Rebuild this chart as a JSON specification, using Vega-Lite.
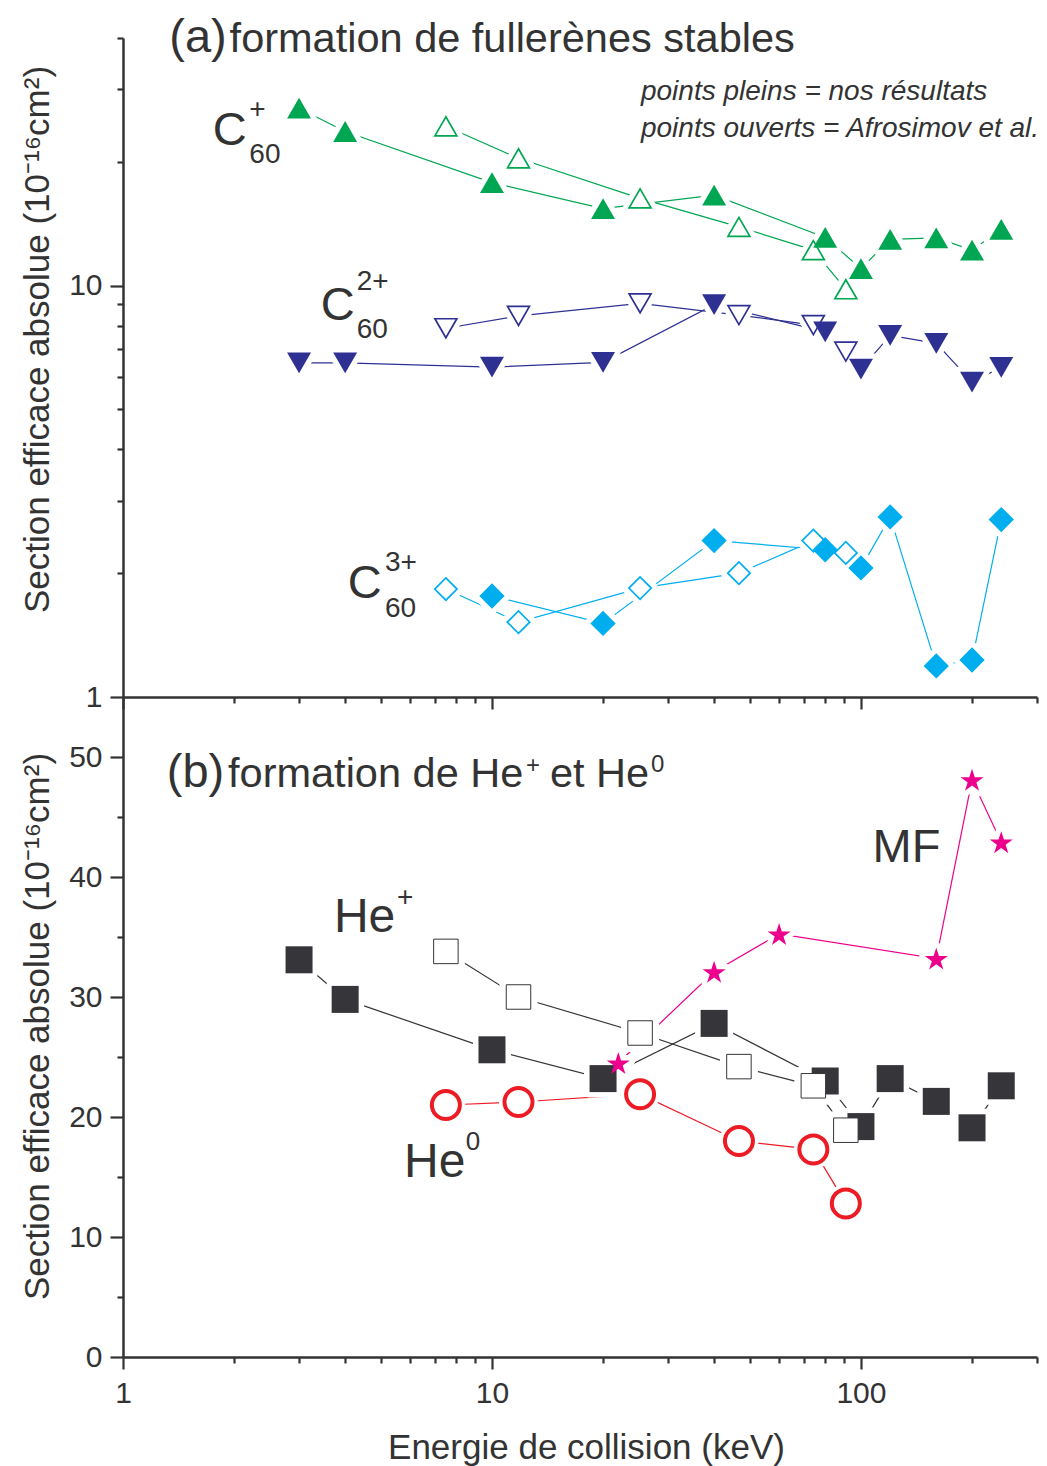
{
  "$schema": "https://vega.github.io/schema/vega-lite/v6.json",
  "width": 914,
  "height": 1319,
  "autosize": {"type": "none"},
  "padding": {"left": 123, "top": 38, "right": 10, "bottom": 109},
  "background": "white",
  "config": {
    "view": {"stroke": null},
    "axis": {
      "domainColor": "#333333", "domainWidth": 2.5,
      "tickColor": "#333333", "tickWidth": 2.2,
      "labelColor": "#333333", "labelFont": "Liberation Sans", "labelFontSize": 30, "labelPadding": 8,
      "labelOverlap": false, "labelFlush": false, "labelBound": false,
      "titleColor": "#333333", "titleFont": "Liberation Sans", "titleFontSize": 35, "titleFontWeight": "normal",
      "grid": false
    },
    "text": {"font": "Liberation Sans", "color": "#333333"}
  },
  "datasets": {
    "a": [
      {"ion": "C60+", "source": "nos", "E": 3, "sigma": 27.0},
      {"ion": "C60+", "source": "nos", "E": 4, "sigma": 23.7},
      {"ion": "C60+", "source": "nos", "E": 10, "sigma": 17.8},
      {"ion": "C60+", "source": "nos", "E": 20, "sigma": 15.4},
      {"ion": "C60+", "source": "nos", "E": 40, "sigma": 16.6},
      {"ion": "C60+", "source": "nos", "E": 80, "sigma": 13.1},
      {"ion": "C60+", "source": "nos", "E": 100, "sigma": 11.0},
      {"ion": "C60+", "source": "nos", "E": 120, "sigma": 12.96},
      {"ion": "C60+", "source": "nos", "E": 160, "sigma": 13.06},
      {"ion": "C60+", "source": "nos", "E": 200, "sigma": 12.2},
      {"ion": "C60+", "source": "nos", "E": 240, "sigma": 13.7},
      {"ion": "C60+", "source": "afro", "E": 7.5, "sigma": 24.4},
      {"ion": "C60+", "source": "afro", "E": 11.8, "sigma": 20.4},
      {"ion": "C60+", "source": "afro", "E": 25.2, "sigma": 16.3},
      {"ion": "C60+", "source": "afro", "E": 46.7, "sigma": 13.9},
      {"ion": "C60+", "source": "afro", "E": 74.3, "sigma": 12.2},
      {"ion": "C60+", "source": "afro", "E": 91, "sigma": 9.8},
      {"ion": "C60 2+", "source": "nos", "E": 3, "sigma": 6.49},
      {"ion": "C60 2+", "source": "nos", "E": 4, "sigma": 6.49},
      {"ion": "C60 2+", "source": "nos", "E": 10, "sigma": 6.34},
      {"ion": "C60 2+", "source": "nos", "E": 20, "sigma": 6.51},
      {"ion": "C60 2+", "source": "nos", "E": 40, "sigma": 8.99},
      {"ion": "C60 2+", "source": "nos", "E": 80, "sigma": 7.72},
      {"ion": "C60 2+", "source": "nos", "E": 100, "sigma": 6.27},
      {"ion": "C60 2+", "source": "nos", "E": 120, "sigma": 7.57},
      {"ion": "C60 2+", "source": "nos", "E": 160, "sigma": 7.24},
      {"ion": "C60 2+", "source": "nos", "E": 200, "sigma": 5.83},
      {"ion": "C60 2+", "source": "nos", "E": 240, "sigma": 6.33},
      {"ion": "C60 2+", "source": "afro", "E": 7.5, "sigma": 7.88},
      {"ion": "C60 2+", "source": "afro", "E": 11.8, "sigma": 8.44},
      {"ion": "C60 2+", "source": "afro", "E": 25.2, "sigma": 9.06},
      {"ion": "C60 2+", "source": "afro", "E": 46.7, "sigma": 8.48},
      {"ion": "C60 2+", "source": "afro", "E": 74.3, "sigma": 8.02},
      {"ion": "C60 2+", "source": "afro", "E": 91, "sigma": 6.91},
      {"ion": "C60 3+", "source": "nos", "E": 10, "sigma": 1.76},
      {"ion": "C60 3+", "source": "nos", "E": 20, "sigma": 1.51},
      {"ion": "C60 3+", "source": "nos", "E": 40, "sigma": 2.40},
      {"ion": "C60 3+", "source": "nos", "E": 80, "sigma": 2.28},
      {"ion": "C60 3+", "source": "nos", "E": 100, "sigma": 2.06},
      {"ion": "C60 3+", "source": "nos", "E": 120, "sigma": 2.74},
      {"ion": "C60 3+", "source": "nos", "E": 160, "sigma": 1.19},
      {"ion": "C60 3+", "source": "nos", "E": 200, "sigma": 1.23},
      {"ion": "C60 3+", "source": "nos", "E": 240, "sigma": 2.70},
      {"ion": "C60 3+", "source": "afro", "E": 7.5, "sigma": 1.83},
      {"ion": "C60 3+", "source": "afro", "E": 11.8, "sigma": 1.52},
      {"ion": "C60 3+", "source": "afro", "E": 25.2, "sigma": 1.84},
      {"ion": "C60 3+", "source": "afro", "E": 46.7, "sigma": 2.00},
      {"ion": "C60 3+", "source": "afro", "E": 74.3, "sigma": 2.40},
      {"ion": "C60 3+", "source": "afro", "E": 91, "sigma": 2.24}
    ],
    "b": [
      {"ion": "He+", "source": "nos", "E": 3, "sigma": 33.1},
      {"ion": "He+", "source": "nos", "E": 4, "sigma": 29.8},
      {"ion": "He+", "source": "nos", "E": 10, "sigma": 25.6},
      {"ion": "He+", "source": "nos", "E": 20, "sigma": 23.2},
      {"ion": "He+", "source": "nos", "E": 40, "sigma": 27.8},
      {"ion": "He+", "source": "nos", "E": 80, "sigma": 23.0},
      {"ion": "He+", "source": "nos", "E": 100, "sigma": 19.2},
      {"ion": "He+", "source": "nos", "E": 120, "sigma": 23.2},
      {"ion": "He+", "source": "nos", "E": 160, "sigma": 21.3},
      {"ion": "He+", "source": "nos", "E": 200, "sigma": 19.1},
      {"ion": "He+", "source": "nos", "E": 240, "sigma": 22.6},
      {"ion": "He+", "source": "afro", "E": 7.5, "sigma": 33.8},
      {"ion": "He+", "source": "afro", "E": 11.8, "sigma": 30.0},
      {"ion": "He+", "source": "afro", "E": 25.2, "sigma": 27.0},
      {"ion": "He+", "source": "afro", "E": 46.7, "sigma": 24.2},
      {"ion": "He+", "source": "afro", "E": 74.3, "sigma": 22.6},
      {"ion": "He+", "source": "afro", "E": 91, "sigma": 18.9},
      {"ion": "He0", "source": "afro", "E": 7.5, "sigma": 21.0},
      {"ion": "He0", "source": "afro", "E": 11.8, "sigma": 21.25},
      {"ion": "He0", "source": "afro", "E": 25.2, "sigma": 21.9},
      {"ion": "He0", "source": "afro", "E": 46.7, "sigma": 18.0},
      {"ion": "He0", "source": "afro", "E": 74.3, "sigma": 17.3},
      {"ion": "He0", "source": "afro", "E": 91, "sigma": 12.8},
      {"ion": "MF", "source": "nos", "E": 22, "sigma": 24.5},
      {"ion": "MF", "source": "nos", "E": 40, "sigma": 32.1},
      {"ion": "MF", "source": "nos", "E": 60, "sigma": 35.25},
      {"ion": "MF", "source": "nos", "E": 160, "sigma": 33.2},
      {"ion": "MF", "source": "nos", "E": 200, "sigma": 48.1},
      {"ion": "MF", "source": "nos", "E": 240, "sigma": 42.9}
    ]
  },
  "resolve": {"scale": {"x": "independent", "y": "independent"}, "axis": {"x": "independent", "y": "independent"}},
  "layer": [
    {
      "resolve": {"scale": {"size": "independent"}},
      "layer": [
        {"data": {"name": "a"},
         "mark": {"type": "line", "strokeWidth": 1.2},
         "encoding": {
           "x": {"field": "E", "type": "quantitative",
             "scale": {"type": "log", "domain": [1, 300], "nice": false},
             "axis": {"orient": "bottom", "offset": -660, "values": [1,2,3,4,5,6,7,8,9,10,20,30,40,50,60,70,80,90,100,200,300],
               "labels": false, "title": null,
               "tickSize": {"condition": {"test": "datum.value == 1 || datum.value == 10 || datum.value == 100", "value": 12}, "value": 6}}},
           "y": {"field": "sigma", "type": "quantitative",
             "scale": {"type": "log", "domain": [1, 40], "range": [659, 0], "nice": false},
             "axis": {"orient": "left", "values": [1,2,3,4,5,6,7,8,9,10,20,30,40],
               "labelExpr": "datum.value == 1 ? '1' : datum.value == 10 ? '10' : ''",
               "tickSize": {"condition": {"test": "datum.value == 1 || datum.value == 10", "value": 13}, "value": 6},
               "title": "Section efficace absolue (10⁻¹⁶cm²)", "titleAngle": 270, "titleX": -75, "titleY": 301,
               "titleBaseline": "alphabetic", "titleAlign": "center"}},
           "color": {"field": "ion", "type": "nominal", "legend": null,
             "scale": {"domain": ["C60+","C60 2+","C60 3+","He+","He0","MF"], "range": ["#00a651","#2e3192","#00aeef","#36353a","#ed1c24","#ec008c"]}},
           "detail": {"field": "source"}}},
        {"data": {"name": "a"},
         "mark": {"type": "point", "filled": true, "fill": "white", "stroke": "white", "strokeWidth": 11, "strokeJoin": "round", "opacity": 1},
         "encoding": {
           "x": {"field": "E", "type": "quantitative"},
           "y": {"field": "sigma", "type": "quantitative"},
           "shape": {"field": "ion", "type": "nominal", "legend": null,
             "scale": {"domain": ["C60+","C60 2+","C60 3+","He+","He0","MF"], "range": ["triangle-up","triangle-down","diamond","square","circle","M0,-0.905L0.225,-0.214L0.951,-0.214L0.363,0.213L0.588,0.905L0,0.477L-0.588,0.905L-0.363,0.213L-0.951,-0.214L-0.225,-0.214Z"]}},
           "size": {"field": "ion", "type": "nominal", "legend": null,
             "scale": {"type": "ordinal", "domain": ["C60+","C60 2+","C60 3+","He+","He0","MF"], "range": [576,576,640,729,784,585]}}}},
        {"data": {"name": "a"},
         "transform": [{"filter": "datum.source == 'afro'"}],
         "mark": {"type": "point", "filled": true, "fill": "white", "opacity": 1},
         "encoding": {
           "x": {"field": "E", "type": "quantitative"},
           "y": {"field": "sigma", "type": "quantitative"},
           "shape": {"field": "ion", "type": "nominal", "legend": null},
           "stroke": {"field": "ion", "type": "nominal", "legend": null,
             "scale": {"domain": ["C60+","C60 2+","C60 3+","He+","He0","MF"], "range": ["#00a651","#2e3192","#00aeef","#36353a","#ed1c24","#ec008c"]}},
           "strokeWidth": {"field": "ion", "type": "nominal", "legend": null,
             "scale": {"type": "ordinal", "domain": ["C60+","C60 2+","C60 3+","He+","He0","MF"], "range": [1.7,1.7,1.7,2.7,2.3,1.7]}},
           "size": {"field": "ion", "type": "nominal", "legend": null,
             "scale": {"type": "ordinal", "domain": ["C60+","C60 2+","C60 3+","He+","He0","MF"], "range": [480,480,500,600,784,585]}}}},
        {"data": {"name": "a"},
         "transform": [{"filter": "datum.source == 'nos'"}],
         "mark": {"type": "point", "filled": true, "opacity": 1, "strokeWidth": 0},
         "encoding": {
           "x": {"field": "E", "type": "quantitative"},
           "y": {"field": "sigma", "type": "quantitative"},
           "shape": {"field": "ion", "type": "nominal", "legend": null},
           "color": {"field": "ion", "type": "nominal", "legend": null},
           "size": {"field": "ion", "type": "nominal", "legend": null,
             "scale": {"type": "ordinal", "domain": ["C60+","C60 2+","C60 3+","He+","He0","MF"], "range": [576,576,640,729,784,585]}}}},
        {"data": {"values": [{}]}, "mark": {"type": "text", "text": "(a)", "fontSize": 47, "align": "left", "baseline": "alphabetic"},
         "encoding": {"x": {"datum": 1.335, "type": "quantitative"}, "y": {"datum": 36.98, "type": "quantitative"}}},
        {"data": {"values": [{}]}, "mark": {"type": "text", "text": "formation de fullerènes stables", "fontSize": 41.5, "align": "left", "baseline": "alphabetic"},
         "encoding": {"x": {"datum": 1.945, "type": "quantitative"}, "y": {"datum": 36.98, "type": "quantitative"}}},
        {"data": {"values": [{}]}, "mark": {"type": "text", "text": "C", "fontSize": 47, "align": "left", "baseline": "alphabetic"},
         "encoding": {"x": {"datum": 1.75, "type": "quantitative"}, "y": {"datum": 21.98, "type": "quantitative"}}},
        {"data": {"values": [{}]}, "mark": {"type": "text", "text": "+", "fontSize": 28, "align": "left", "baseline": "alphabetic"},
         "encoding": {"x": {"datum": 2.2, "type": "quantitative"}, "y": {"datum": 25.56, "type": "quantitative"}}},
        {"data": {"values": [{}]}, "mark": {"type": "text", "text": "60", "fontSize": 28, "align": "left", "baseline": "alphabetic"},
         "encoding": {"x": {"datum": 2.2, "type": "quantitative"}, "y": {"datum": 19.87, "type": "quantitative"}}},
        {"data": {"values": [{}]}, "mark": {"type": "text", "text": "C", "fontSize": 47, "align": "left", "baseline": "alphabetic"},
         "encoding": {"x": {"datum": 3.434, "type": "quantitative"}, "y": {"datum": 8.25, "type": "quantitative"}}},
        {"data": {"values": [{}]}, "mark": {"type": "text", "text": "2+", "fontSize": 28, "align": "left", "baseline": "alphabetic"},
         "encoding": {"x": {"datum": 4.3, "type": "quantitative"}, "y": {"datum": 9.76, "type": "quantitative"}}},
        {"data": {"values": [{}]}, "mark": {"type": "text", "text": "60", "fontSize": 28, "align": "left", "baseline": "alphabetic"},
         "encoding": {"x": {"datum": 4.3, "type": "quantitative"}, "y": {"datum": 7.46, "type": "quantitative"}}},
        {"data": {"values": [{}]}, "mark": {"type": "text", "text": "C", "fontSize": 47, "align": "left", "baseline": "alphabetic"},
         "encoding": {"x": {"datum": 4.064, "type": "quantitative"}, "y": {"datum": 1.741, "type": "quantitative"}}},
        {"data": {"values": [{}]}, "mark": {"type": "text", "text": "3+", "fontSize": 28, "align": "left", "baseline": "alphabetic"},
         "encoding": {"x": {"datum": 5.13, "type": "quantitative"}, "y": {"datum": 2.025, "type": "quantitative"}}},
        {"data": {"values": [{}]}, "mark": {"type": "text", "text": "60", "fontSize": 28, "align": "left", "baseline": "alphabetic"},
         "encoding": {"x": {"datum": 5.13, "type": "quantitative"}, "y": {"datum": 1.565, "type": "quantitative"}}},
        {"data": {"values": [{}]}, "mark": {"type": "text", "text": "points pleins = nos résultats", "fontSize": 28, "fontStyle": "italic", "align": "left", "baseline": "alphabetic"},
         "encoding": {"x": {"datum": 25.34, "type": "quantitative"}, "y": {"datum": 28.27, "type": "quantitative"}}},
        {"data": {"values": [{}]}, "mark": {"type": "text", "text": "points ouverts = Afrosimov et al.", "fontSize": 28, "fontStyle": "italic", "align": "left", "baseline": "alphabetic"},
         "encoding": {"x": {"datum": 25.34, "type": "quantitative"}, "y": {"datum": 22.97, "type": "quantitative"}}}
      ]
    },
    {
      "resolve": {"scale": {"size": "independent"}},
      "layer": [
        {"data": {"name": "b"},
         "mark": {"type": "line", "strokeWidth": 1.2},
         "encoding": {
           "x": {"field": "E", "type": "quantitative",
             "scale": {"type": "log", "domain": [1, 300], "nice": false},
             "axis": {"orient": "bottom", "values": [1,2,3,4,5,6,7,8,9,10,20,30,40,50,60,70,80,90,100,200,300],
               "labelExpr": "datum.value == 1 ? '1' : datum.value == 10 ? '10' : datum.value == 100 ? '100' : ''",
               "labelPadding": 9,
               "tickSize": {"condition": {"test": "datum.value == 1 || datum.value == 10 || datum.value == 100", "value": 12}, "value": 6},
               "title": "Energie de collision (keV)", "titleX": 463, "titleY": 101, "titleBaseline": "alphabetic", "titleAlign": "center"}},
           "y": {"field": "sigma", "type": "quantitative",
             "scale": {"type": "linear", "domain": [0, 55], "range": [1319, 659], "nice": false, "zero": false},
             "axis": {"orient": "left", "values": [0,5,10,15,20,25,30,35,40,45,50],
               "labelExpr": "datum.value % 10 == 0 ? '' + datum.value : ''",
               "tickSize": {"condition": {"test": "datum.value % 10 == 0", "value": 13}, "value": 6},
               "title": "Section efficace absolue (10⁻¹⁶cm²)", "titleAngle": 270, "titleX": -75, "titleY": 988,
               "titleBaseline": "alphabetic", "titleAlign": "center"}},
           "color": {"field": "ion", "type": "nominal", "legend": null},
           "detail": {"field": "source"}}},
        {"data": {"name": "b"},
         "mark": {"type": "point", "filled": true, "fill": "white", "stroke": "white", "strokeWidth": 11, "strokeJoin": "round", "opacity": 1},
         "encoding": {
           "x": {"field": "E", "type": "quantitative"},
           "y": {"field": "sigma", "type": "quantitative"},
           "shape": {"field": "ion", "type": "nominal", "legend": null},
           "size": {"field": "ion", "type": "nominal", "legend": null,
             "scale": {"type": "ordinal", "domain": ["C60+","C60 2+","C60 3+","He+","He0","MF"], "range": [576,576,640,729,784,585]}}}},
        {"data": {"name": "b"},
         "transform": [{"filter": "datum.source == 'nos'"}],
         "mark": {"type": "point", "filled": true, "opacity": 1, "strokeWidth": 0},
         "encoding": {
           "x": {"field": "E", "type": "quantitative"},
           "y": {"field": "sigma", "type": "quantitative"},
           "shape": {"field": "ion", "type": "nominal", "legend": null},
           "color": {"field": "ion", "type": "nominal", "legend": null},
           "size": {"field": "ion", "type": "nominal", "legend": null,
             "scale": {"type": "ordinal", "domain": ["C60+","C60 2+","C60 3+","He+","He0","MF"], "range": [576,576,640,729,784,585]}}}},
        {"data": {"name": "b"},
         "transform": [{"filter": "datum.source == 'afro'"}],
         "mark": {"type": "point", "filled": true, "fill": "white", "opacity": 1},
         "encoding": {
           "x": {"field": "E", "type": "quantitative"},
           "y": {"field": "sigma", "type": "quantitative"},
           "shape": {"field": "ion", "type": "nominal", "legend": null},
           "stroke": {"field": "ion", "type": "nominal", "legend": null},
           "strokeWidth": {"field": "ion", "type": "nominal", "legend": null},
           "size": {"field": "ion", "type": "nominal", "legend": null,
             "scale": {"type": "ordinal", "domain": ["C60+","C60 2+","C60 3+","He+","He0","MF"], "range": [480,480,500,600,784,585]}}}},
        {"data": {"values": [{}]}, "mark": {"type": "text", "text": "(b)", "fontSize": 47, "align": "left", "baseline": "alphabetic"},
         "encoding": {"x": {"datum": 1.314, "type": "quantitative"}, "y": {"datum": 47.5, "type": "quantitative"}}},
        {"data": {"values": [{}]}, "mark": {"type": "text", "text": "formation de He", "fontSize": 41.5, "align": "left", "baseline": "alphabetic"},
         "encoding": {"x": {"datum": 1.926, "type": "quantitative"}, "y": {"datum": 47.5, "type": "quantitative"}}},
        {"data": {"values": [{}]}, "mark": {"type": "text", "text": "+", "fontSize": 24, "align": "left", "baseline": "alphabetic"},
         "encoding": {"x": {"datum": 12.37, "type": "quantitative"}, "y": {"datum": 48.67, "type": "quantitative"}}},
        {"data": {"values": [{}]}, "mark": {"type": "text", "text": "et He", "fontSize": 41.5, "align": "left", "baseline": "alphabetic"},
         "encoding": {"x": {"datum": 14.36, "type": "quantitative"}, "y": {"datum": 47.5, "type": "quantitative"}}},
        {"data": {"values": [{}]}, "mark": {"type": "text", "text": "0", "fontSize": 24, "align": "left", "baseline": "alphabetic"},
         "encoding": {"x": {"datum": 26.98, "type": "quantitative"}, "y": {"datum": 48.75, "type": "quantitative"}}},
        {"data": {"values": [{}]}, "mark": {"type": "text", "text": "He", "fontSize": 48, "align": "left", "baseline": "alphabetic"},
         "encoding": {"x": {"datum": 3.73, "type": "quantitative"}, "y": {"datum": 35.42, "type": "quantitative"}}},
        {"data": {"values": [{}]}, "mark": {"type": "text", "text": "+", "fontSize": 28, "align": "left", "baseline": "alphabetic"},
         "encoding": {"x": {"datum": 5.53, "type": "quantitative"}, "y": {"datum": 37.58, "type": "quantitative"}}},
        {"data": {"values": [{}]}, "mark": {"type": "text", "text": "He", "fontSize": 48, "align": "left", "baseline": "alphabetic"},
         "encoding": {"x": {"datum": 5.775, "type": "quantitative"}, "y": {"datum": 15.0, "type": "quantitative"}}},
        {"data": {"values": [{}]}, "mark": {"type": "text", "text": "0", "fontSize": 26, "align": "left", "baseline": "alphabetic"},
         "encoding": {"x": {"datum": 8.49, "type": "quantitative"}, "y": {"datum": 17.25, "type": "quantitative"}}},
        {"data": {"values": [{}]}, "mark": {"type": "text", "text": "MF", "fontSize": 47, "align": "left", "baseline": "alphabetic"},
         "encoding": {"x": {"datum": 107.5, "type": "quantitative"}, "y": {"datum": 41.25, "type": "quantitative"}}}
      ]
    }
  ]
}
